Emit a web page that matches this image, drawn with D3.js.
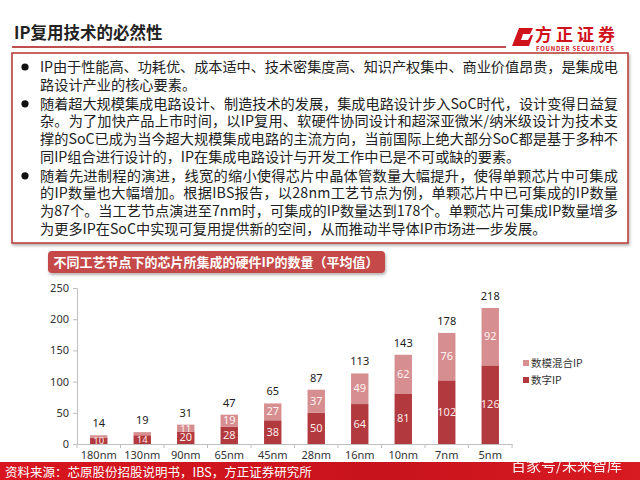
<!DOCTYPE html>
<html><head><meta charset="utf-8">
<script src="https://cdn.jsdelivr.net/npm/d3@7"></script>
<style>
html,body{margin:0;padding:0;background:#fff;}
svg{display:block;font-family:"Noto Sans CJK SC","Noto Sans",sans-serif;}
</style></head>
<body><svg id="c" width="640" height="480"></svg>
<script>
const categories = ["180nm","130nm","90nm","65nm","45nm","28nm","16nm","10nm","7nm","5nm"];
const digitalIP = [10,14,20,28,38,50,64,81,102,126];
const mixedIP = [4,5,11,19,27,37,49,62,76,92];
const totals = [14,19,31,47,65,87,113,143,178,218];
const yTicks = [0,50,100,150,200,250];
const seriesNames = ["数模混合IP","数字IP"];
const pageTitle = "IP复用技术的必然性";
const chartTitle = "不同工艺节点下的芯片所集成的硬件IP的数量（平均值）";
const sourceText = "资料来源：芯原股份招股说明书，IBS，方正证券研究所";
const bullets = [
  ["IP由于性能高、功耗优、成本适中、技术密集度高、知识产权集中、商业价值昂贵，是集成电","路设计产业的核心要素。"],
  ["随着超大规模集成电路设计、制造技术的发展，集成电路设计步入SoC时代，设计变得日益复","杂。为了加快产品上市时间，以IP复用、软硬件协同设计和超深亚微米/纳米级设计为技术支","撑的SoC已成为当今超大规模集成电路的主流方向，当前国际上绝大部分SoC都是基于多种不","同IP组合进行设计的，IP在集成电路设计与开发工作中已是不可或缺的要素。"],
  ["随着先进制程的演进，线宽的缩小使得芯片中晶体管数量大幅提升，使得单颗芯片中可集成","的IP数量也大幅增加。根据IBS报告，以28nm工艺节点为例，单颗芯片中已可集成的IP数量","为87个。当工艺节点演进至7nm时，可集成的IP数量达到178个。单颗芯片可集成IP数量增多","为更多IP在SoC中实现可复用提供新的空间，从而推动半导体IP市场进一步发展。"]
];

const colDigital = "#b2393d", colMixed = "#d68e90";
const svg = d3.select("#c");
const defs = svg.append("defs");
const f = defs.append("filter").attr("id","sh").attr("x","-5%").attr("y","-20%").attr("width","110%").attr("height","150%");
f.append("feDropShadow").attr("dx",1).attr("dy",2).attr("stdDeviation",1.5).attr("flood-color","#000").attr("flood-opacity",0.3);
const g = defs.append("linearGradient").attr("id","fg").attr("x1","0").attr("x2","1");
g.append("stop").attr("offset","0").attr("stop-color","#d8161f");
g.append("stop").attr("offset","0.6").attr("stop-color","#c8131c");
g.append("stop").attr("offset","1").attr("stop-color","#d81a22");

// header
svg.append("text").attr("x",14).attr("y",39).attr("font-size",16.5).attr("font-weight","bold").attr("fill","#222").text(pageTitle);
svg.append("line").attr("x1",12).attr("x2",506).attr("y1",47).attr("y2",47).attr("stroke","#c0504d").attr("stroke-width",2);
// logo
svg.append("path").attr("d","M519,28 L533,28 L530,34 L523,34 L521,40 L528,40 L531,35 L533,35 L529,46 L512,46 Z").attr("fill","#d0121b");
svg.append("text").attr("x",535).attr("y",41).attr("font-size",17).attr("font-weight","bold").attr("fill","#d0121b").attr("textLength",80).text("方正证券");
svg.append("text").attr("x",536).attr("y",51).attr("font-size",6).attr("font-weight","bold").attr("fill","#d0121b").attr("textLength",78).text("FOUNDER SECURITIES");

// box
svg.append("rect").attr("x",12).attr("y",53).attr("width",616).attr("height",190).attr("fill","#fff").attr("stroke","#b8423f").attr("stroke-width",1.6).attr("filter","url(#sh)");
let yy = 72;
bullets.forEach((lines,bi)=>{
  svg.append("circle").attr("cx",25).attr("cy",yy-5).attr("r",3.6).attr("fill","#111");
  lines.forEach((ln,li)=>{
    const t = svg.append("text").attr("x",40).attr("y",yy).attr("font-size",14.2).attr("fill","#222").text(ln);
    if(li < lines.length-1) t.attr("textLength",578).attr("lengthAdjust","spacing");
    yy += 17.6;
  });
  yy += 1.6;
});

// chart banner
svg.append("rect").attr("x",48).attr("y",251).attr("width",337).attr("height",22).attr("rx",4).attr("fill","#c5484a").attr("filter","url(#sh)");
svg.append("text").attr("x",216).attr("y",267).attr("text-anchor","middle").attr("font-size",13).attr("font-weight","bold").attr("fill","#fff").text(chartTitle);

// chart
const x = d3.scaleBand().domain(categories).range([77,512]).paddingInner(0.6).paddingOuter(0.3);
const y = d3.scaleLinear().domain([0,250]).range([444,288]);
const axCol = "#bfbfbf";
const yAx = svg.append("g").attr("transform","translate(77,0)").call(d3.axisLeft(y).tickValues(yTicks).tickSize(4).tickPadding(4));
yAx.select(".domain").attr("stroke",axCol);
yAx.selectAll(".tick line").attr("stroke",axCol);
yAx.selectAll("text").attr("font-size",11).attr("fill","#333").attr("font-family","'Noto Sans','Open Sans',sans-serif");
const xAx = svg.append("g").attr("transform","translate(0,444)").call(d3.axisBottom(x).tickSize(0).tickPadding(7));
xAx.select(".domain").attr("stroke",axCol);
xAx.selectAll("text").attr("font-size",11).attr("fill","#333").attr("font-family","'Noto Sans','Open Sans',sans-serif");
const step = x.step();
const bounds = d3.range(categories.length+1).map(i=> x(categories[0]) - step*x.paddingOuter() + i*step);
svg.append("g").selectAll("line").data(bounds).join("line")
  .attr("x1",d=>d).attr("x2",d=>d).attr("y1",444).attr("y2",448).attr("stroke",axCol);

const bars = svg.append("g");
categories.forEach((c,i)=>{
  const d = digitalIP[i], m = mixedIP[i];
  bars.append("rect").attr("x",x(c)).attr("width",x.bandwidth()).attr("y",y(d)).attr("height",y(0)-y(d)).attr("fill",colDigital);
  bars.append("rect").attr("x",x(c)).attr("width",x.bandwidth()).attr("y",y(d+m)).attr("height",y(d)-y(d+m)).attr("fill",colMixed);
  const cx = x(c)+x.bandwidth()/2;
  const fs = (y(0)-y(d) < 10) ? 9.5 : 11;
  bars.append("text").attr("x",cx).attr("y",(y(d)+y(0))/2+3.6).attr("text-anchor","middle").attr("font-size",fs).attr("fill","#fde8e8").attr("font-family","'Noto Sans',sans-serif").text(d);
  if(m>=10) bars.append("text").attr("x",cx).attr("y",(y(d)+y(d+m))/2+3.6).attr("text-anchor","middle").attr("font-size",(y(d)-y(d+m) < 10) ? 9.5 : 11).attr("fill","#fff3f3").attr("font-family","'Noto Sans',sans-serif").text(m);
  bars.append("text").attr("x",cx).attr("y",y(totals[i])-8).attr("text-anchor","middle").attr("font-size",11).attr("fill","#222").attr("font-family","'Noto Sans',sans-serif").text(totals[i]);
});

// legend
const leg = svg.append("g");
[[seriesNames[0],colMixed,364],[seriesNames[1],colDigital,381]].forEach(([n,c,ly])=>{
  leg.append("rect").attr("x",523).attr("y",ly-4).attr("width",6).attr("height",6).attr("fill",c);
  leg.append("text").attr("x",531).attr("y",ly+3).attr("font-size",10.5).attr("fill","#333").text(n);
});

// footer
svg.append("rect").attr("x",0).attr("y",462).attr("width",640).attr("height",18).attr("fill","url(#fg)");
svg.append("text").attr("x",5).attr("y",477).attr("font-size",12.5).attr("fill","#fff").text(sourceText);
svg.append("text").attr("x",511).attr("y",471).attr("font-size",15).attr("fill","#fff").attr("opacity",0.92).text("百家号/未来智库");
</script></body></html>
